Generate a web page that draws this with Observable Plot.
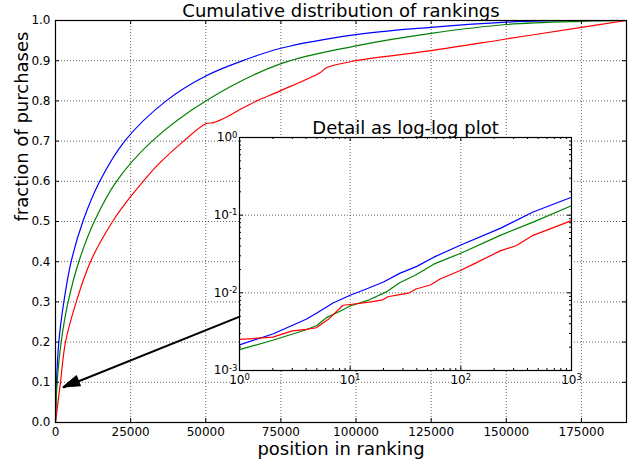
<!DOCTYPE html>
<html><head><meta charset="utf-8">
<script src="https://cdn.jsdelivr.net/npm/d3@7"></script>
<script src="https://cdn.jsdelivr.net/npm/@observablehq/plot@0.6"></script>
<style>
body{margin:0;background:#fff;}
#wrap{position:relative;width:641px;height:461px;font-family:"DejaVu Sans",sans-serif;overflow:hidden;}
#wrap svg{position:absolute;left:0;top:0;overflow:visible;}
</style></head><body><div id="wrap"></div>
<script>
// ---------- text ----------
const mainTitle = "Cumulative distribution of rankings";
const insetTitle = "Detail as log-log plot";
const xLabel = "position in ranking";
const yLabel = "fraction of purchases";

// ---------- main chart ticks ----------
const xTicksMain = [0, 25000, 50000, 75000, 100000, 125000, 150000, 175000];
const yTicksMain = [0, 0.1, 0.2, 0.3, 0.4, 0.5, 0.6, 0.7, 0.8, 0.9, 1.0];
const xDomainMain = [0, 190000];

// ---------- main chart series (position in ranking -> cumulative fraction) ----------
const blueRank = [0, 330, 1100, 2770, 5200, 9100, 14730, 23030, 36800, 50000, 63000, 75000, 100000, 125000, 150000, 163000, 190000];
const blueFrac = [0, 0.1, 0.2, 0.3, 0.4, 0.5, 0.6, 0.7, 0.8, 0.862, 0.902, 0.931, 0.965, 0.983, 0.996, 0.999, 1.0];

const greenRank = [0, 550, 1880, 4200, 7760, 12900, 20300, 32130, 50000, 74800, 100000, 125000, 150000, 175000, 190000];
const greenFrac = [0, 0.1, 0.2, 0.3, 0.4, 0.5, 0.6, 0.7, 0.8, 0.892, 0.937, 0.968, 0.99, 0.998, 1.0];

const redRank = [0, 1660, 3320, 6900, 11630, 19000, 25000, 29200, 33800, 42650, 50000, 52600, 57000, 61500, 67000, 74800, 88000, 90300, 100000, 125000, 150000, 175000, 190000];
const redFrac = [0, 0.1, 0.2, 0.3, 0.4, 0.5, 0.562, 0.6, 0.639, 0.7, 0.743, 0.746, 0.76, 0.779, 0.8, 0.825, 0.87, 0.883, 0.9, 0.925, 0.954, 0.983, 1.0];

// arrow annotation (main chart data coordinates)
const arrowFrom = [61500, 0.264];
const arrowTo = [2560, 0.087];

// ---------- inset (log-log) ----------
const insetXTicks = [1, 10, 100, 1000];
const insetXExps = ["0", "1", "2", "3"];
const insetYTicks = [0.001, 0.01, 0.1, 1];
const insetYExps = ["-3", "-2", "-1", "0"];
const insetXMinor = [2,3,4,5,6,7,8,9,20,30,40,50,60,70,80,90,200,300,400,500,600,700,800,900];
const insetYMinor = [0.002,0.003,0.004,0.005,0.006,0.007,0.008,0.009,0.02,0.03,0.04,0.05,0.06,0.07,0.08,0.09,0.2,0.3,0.4,0.5,0.6,0.7,0.8,0.9];

const insetBlueRank = [1, 2, 4, 5, 7, 10, 14, 20, 28, 40, 57, 100, 227, 450, 1000];
const insetBlueFrac = [0.00214, 0.00295, 0.00457, 0.0055, 0.00741, 0.0093, 0.0112, 0.0138, 0.0178, 0.0219, 0.0288, 0.0412, 0.0676, 0.11, 0.17];

const insetGreenRank = [1, 2, 4, 5, 6.1, 8.1, 10, 14.9, 21, 28, 39, 57, 100, 227, 450, 1000];
const insetGreenFrac = [0.00186, 0.00245, 0.00335, 0.0038, 0.00479, 0.0058, 0.00676, 0.00813, 0.0102, 0.0135, 0.017, 0.0234, 0.0324, 0.055, 0.0813, 0.132];

const insetRedRank = [1, 2, 3, 4, 4.94, 6.5, 8.6, 10, 14.9, 19.7, 21.9, 28, 34.3, 39.3, 53, 65, 100, 130, 227, 318, 450, 1000];
const insetRedFrac = [0.00251, 0.00269, 0.00324, 0.00338, 0.00355, 0.00468, 0.00692, 0.00708, 0.00759, 0.00813, 0.00891, 0.0095, 0.01, 0.0112, 0.0126, 0.0151, 0.0195, 0.0234, 0.0347, 0.0407, 0.055, 0.0851];

// ---------- helpers ----------
const rows = (xs, ys) => xs.map((x, i) => ({x, y: ys[i]}));
const BLUE = "#0000ff", GREEN = "#008000", RED = "#ff0000";
const gridStyle = {stroke: "black", strokeOpacity: 0.6, strokeWidth: 1, strokeDasharray: "1,2"};

// ---------- main plot ----------
const W = 641, H = 461, mL = 55, mR = 15, mT = 20, mB = 39;
const fW = W - mL - mR, fH = H - mT - mB;

const main = Plot.plot({
  width: W, height: H,
  marginLeft: mL, marginRight: mR, marginTop: mT, marginBottom: mB,
  style: {fontFamily: "DejaVu Sans", fontSize: "12px", color: "black", background: "transparent", overflow: "visible"},
  x: {domain: xDomainMain},
  y: {domain: [0, 1]},
  marks: [
    Plot.frame({fill: "white", stroke: "none"}),
    Plot.gridX(xTicksMain, gridStyle),
    Plot.gridY(yTicksMain, gridStyle),
    Plot.line(rows(blueRank, blueFrac), {x: "x", y: "y", stroke: BLUE, strokeWidth: 1.2, curve: "catmull-rom"}),
    Plot.line(rows(greenRank, greenFrac), {x: "x", y: "y", stroke: GREEN, strokeWidth: 1.2, curve: "catmull-rom"}),
    Plot.line(rows(redRank, redFrac), {x: "x", y: "y", stroke: RED, strokeWidth: 1.2, curve: "catmull-rom"}),
    Plot.link([{x1: arrowFrom[0], y1: arrowFrom[1], x2: arrowTo[0], y2: arrowTo[1]}],
      {x1: "x1", y1: "y1", x2: "x2", y2: "y2", stroke: "black", strokeWidth: 2}),
    Plot.tickX(xTicksMain, {x: d => d, insetTop: fH - 4, stroke: "black"}),
    Plot.tickX(xTicksMain, {x: d => d, insetBottom: fH - 4, stroke: "black"}),
    Plot.tickY(yTicksMain, {y: d => d, insetRight: fW - 4, stroke: "black"}),
    Plot.tickY(yTicksMain, {y: d => d, insetLeft: fW - 4, stroke: "black"}),
    Plot.frame({stroke: "black", strokeWidth: 1.2}),
    Plot.axisX(xTicksMain, {tickSize: 0, tickPadding: 5, tickFormat: d => String(d), label: null, fontSize: 12}),
    Plot.axisY(yTicksMain, {tickSize: 0, tickPadding: 5, tickFormat: d3.format(".1f"), label: null, fontSize: 12}),
    Plot.text([mainTitle], {frameAnchor: "top", dy: -4, lineAnchor: "bottom", fontSize: 18}),
    Plot.text([xLabel], {frameAnchor: "bottom", dy: 32, lineAnchor: "bottom", fontSize: 18}),
    Plot.text([yLabel], {frameAnchor: "left", dx: -33, rotate: -90, fontSize: 18})
  ]
});

// filled arrowhead, positioned through the plot's own scales
{
  const sx = main.scale("x"), sy = main.scale("y");
  const tx = sx.apply(arrowTo[0]), ty = sy.apply(arrowTo[1]);
  const fx = sx.apply(arrowFrom[0]), fy = sy.apply(arrowFrom[1]);
  const len = Math.hypot(fx - tx, fy - ty);
  const ux = (fx - tx) / len, uy = (fy - ty) / len;
  const hl = 17, hw = 5.5;
  const bx = tx + ux * hl, by = ty + uy * hl;
  const pts = [[tx, ty], [bx - uy * hw, by + ux * hw], [bx + uy * hw, by - ux * hw]];
  d3.select(main).append("polygon")
    .attr("points", pts.map(p => p.join(",")).join(" "))
    .attr("fill", "black").attr("stroke", "black").attr("stroke-width", 1);
}

// ---------- inset plot ----------
const iFrameLeft = 239, iFrameTop = 137, iFW = 332, iFH = 233;
const iL = 36, iR = 16, iT = 26, iB = 22;
const inset = Plot.plot({
  width: iFW + iL + iR, height: iFH + iT + iB,
  marginLeft: iL, marginRight: iR, marginTop: iT, marginBottom: iB,
  style: {fontFamily: "DejaVu Sans", fontSize: "12px", color: "black", background: "transparent", overflow: "visible"},
  x: {type: "log", domain: [1, 1000]},
  y: {type: "log", domain: [0.001, 1]},
  marks: [
    Plot.frame({fill: "white", stroke: "none"}),
    Plot.gridX(insetXTicks, gridStyle),
    Plot.gridY(insetYTicks, gridStyle),
    Plot.line(rows(insetBlueRank, insetBlueFrac), {x: "x", y: "y", stroke: BLUE, strokeWidth: 1.2}),
    Plot.line(rows(insetGreenRank, insetGreenFrac), {x: "x", y: "y", stroke: GREEN, strokeWidth: 1.2}),
    Plot.line(rows(insetRedRank, insetRedFrac), {x: "x", y: "y", stroke: RED, strokeWidth: 1.2}),
    Plot.tickX(insetXTicks, {x: d => d, insetTop: iFH - 4, stroke: "black"}),
    Plot.tickX(insetXTicks, {x: d => d, insetBottom: iFH - 4, stroke: "black"}),
    Plot.tickY(insetYTicks, {y: d => d, insetRight: iFW - 4, stroke: "black"}),
    Plot.tickY(insetYTicks, {y: d => d, insetLeft: iFW - 4, stroke: "black"}),
    Plot.tickX(insetXMinor, {x: d => d, insetTop: iFH - 2, stroke: "black"}),
    Plot.tickX(insetXMinor, {x: d => d, insetBottom: iFH - 2, stroke: "black"}),
    Plot.tickY(insetYMinor, {y: d => d, insetRight: iFW - 2, stroke: "black"}),
    Plot.tickY(insetYMinor, {y: d => d, insetLeft: iFW - 2, stroke: "black"}),
    Plot.frame({stroke: "black", strokeWidth: 1.2}),
    Plot.axisX(insetXTicks, {tickSize: 0, tickPadding: 5, tickFormat: d => "10^" + insetXExps[insetXTicks.indexOf(d)], label: null, fontSize: 12}),
    Plot.axisY(insetYTicks, {tickSize: 0, tickPadding: 2, tickFormat: d => "10^" + insetYExps[insetYTicks.indexOf(d)], label: null, fontSize: 12}),
    Plot.text([insetTitle], {frameAnchor: "top", dy: -4, lineAnchor: "bottom", fontSize: 18})
  ]
});
// render "10^e" tick labels as 10 with a superscript exponent
d3.select(inset).selectAll("text").each(function () {
  const t = this.textContent;
  if (!t.startsWith("10^")) return;
  const exp = t.slice(3);
  const sel = d3.select(this);
  sel.text(null);
  sel.append("tspan").text("10");
  sel.append("tspan").attr("dy", "-0.45em").attr("font-size", "8.5px").text(exp);
});
inset.style.left = (iFrameLeft - iL) + "px";
inset.style.top = (iFrameTop - iT) + "px";

const wrap = document.getElementById("wrap");
wrap.appendChild(main);
wrap.appendChild(inset);
</script>
</body></html>
